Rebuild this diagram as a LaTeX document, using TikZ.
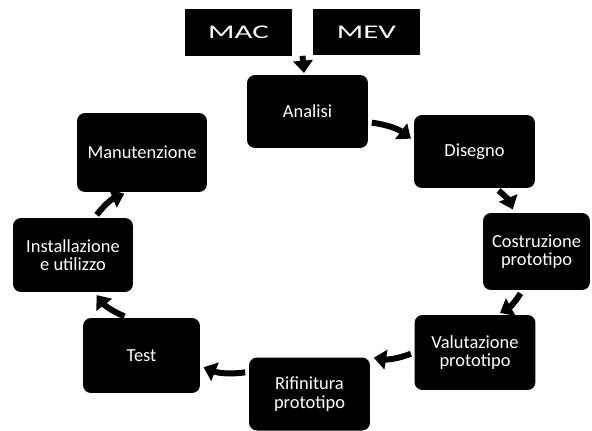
\documentclass[tikz,border=0pt]{standalone}
\usepackage{fontspec}
\setmainfont{Carlito}
\newfontfamily\widefont[FakeStretch=1.6]{Carlito}
\usetikzlibrary{arrows.meta,calc}
\tikzset{
	fase/.style={fill=black, text=white, rounded corners=0.16cm, minimum width=2.42cm, minimum height=1.46cm, align=center, inner sep=2pt, font=\fontsize{10.5}{10.5}\selectfont},
	sigla/.style={fill=black, text=white, minimum width=2.16cm, minimum height=0.93cm, font=\widefont\fontsize{11}{13}\selectfont},
	ciclo/.style={line width=3.4pt, -{Triangle[length=7pt,width=11pt]}, shorten <=2pt, shorten >=2pt}
}

\begin{document}
\begin{tikzpicture}[x=0.02cm, y=-0.02cm]
			%%%%% START %%%%%
			\useasboundingbox (0,0) rectangle (592,430);
			
			\node[sigla] (mac) at (238.5, 32.5) {MAC};
			\node[sigla] (mev) at (366.5, 32) {MEV};
			\coordinate (fonte) at ($(mac.south east)!0.5!(mev.south west)$);
			
			\node[fase] (analisi) at (307.5, 111.5) {Analisi};
			\node[fase] (disegno) at (474.5, 151.5) {Disegno};
			\node[fase, minimum width=2.14cm, minimum height=1.54cm] (costruzione) at (536.5, 251.5) {Costruzione\\prototipo};
			\node[fase, minimum height=1.5cm] (valutazione) at (475, 352.5) {Valutazione\\prototipo};
			\node[fase] (rifinitura) at (309.5, 394) {Rifinitura\\prototipo};
			\node[fase, minimum width=2.34cm, minimum height=1.5cm] (test) at (141.5, 355.5) {Test};
			\node[fase, minimum width=2.4cm, minimum height=1.48cm] (installazione) at (73, 255) {Installazione\\e utilizzo};
			\node[fase, minimum width=2.6cm, minimum height=1.58cm] (manutenzione) at (142, 152.5) {Manutenzione};
			
			% frecce del ciclo
			\draw[ciclo, shorten <=0pt, shorten >=1pt] (fonte) -- (analisi);
			\draw[ciclo] (analisi.-10) to[bend left=15] (disegno.170);
			\draw[ciclo] (disegno.-60) to[bend left=15] (costruzione.120);
			\draw[ciclo] (costruzione.-110) to[bend left=15] (valutazione.60);
			\draw[ciclo] (valutazione.west) to[bend left=15] (rifinitura.north east);
			\draw[ciclo] (rifinitura.160) to[bend left=15] (test.-10);
			\draw[ciclo] (test.110) to[bend left=15] (installazione.-60);
			\draw[ciclo] (installazione.60) to[bend left=15] (manutenzione.-110);
			
			%%%%% END %%%%%
\end{tikzpicture}
\end{document}
